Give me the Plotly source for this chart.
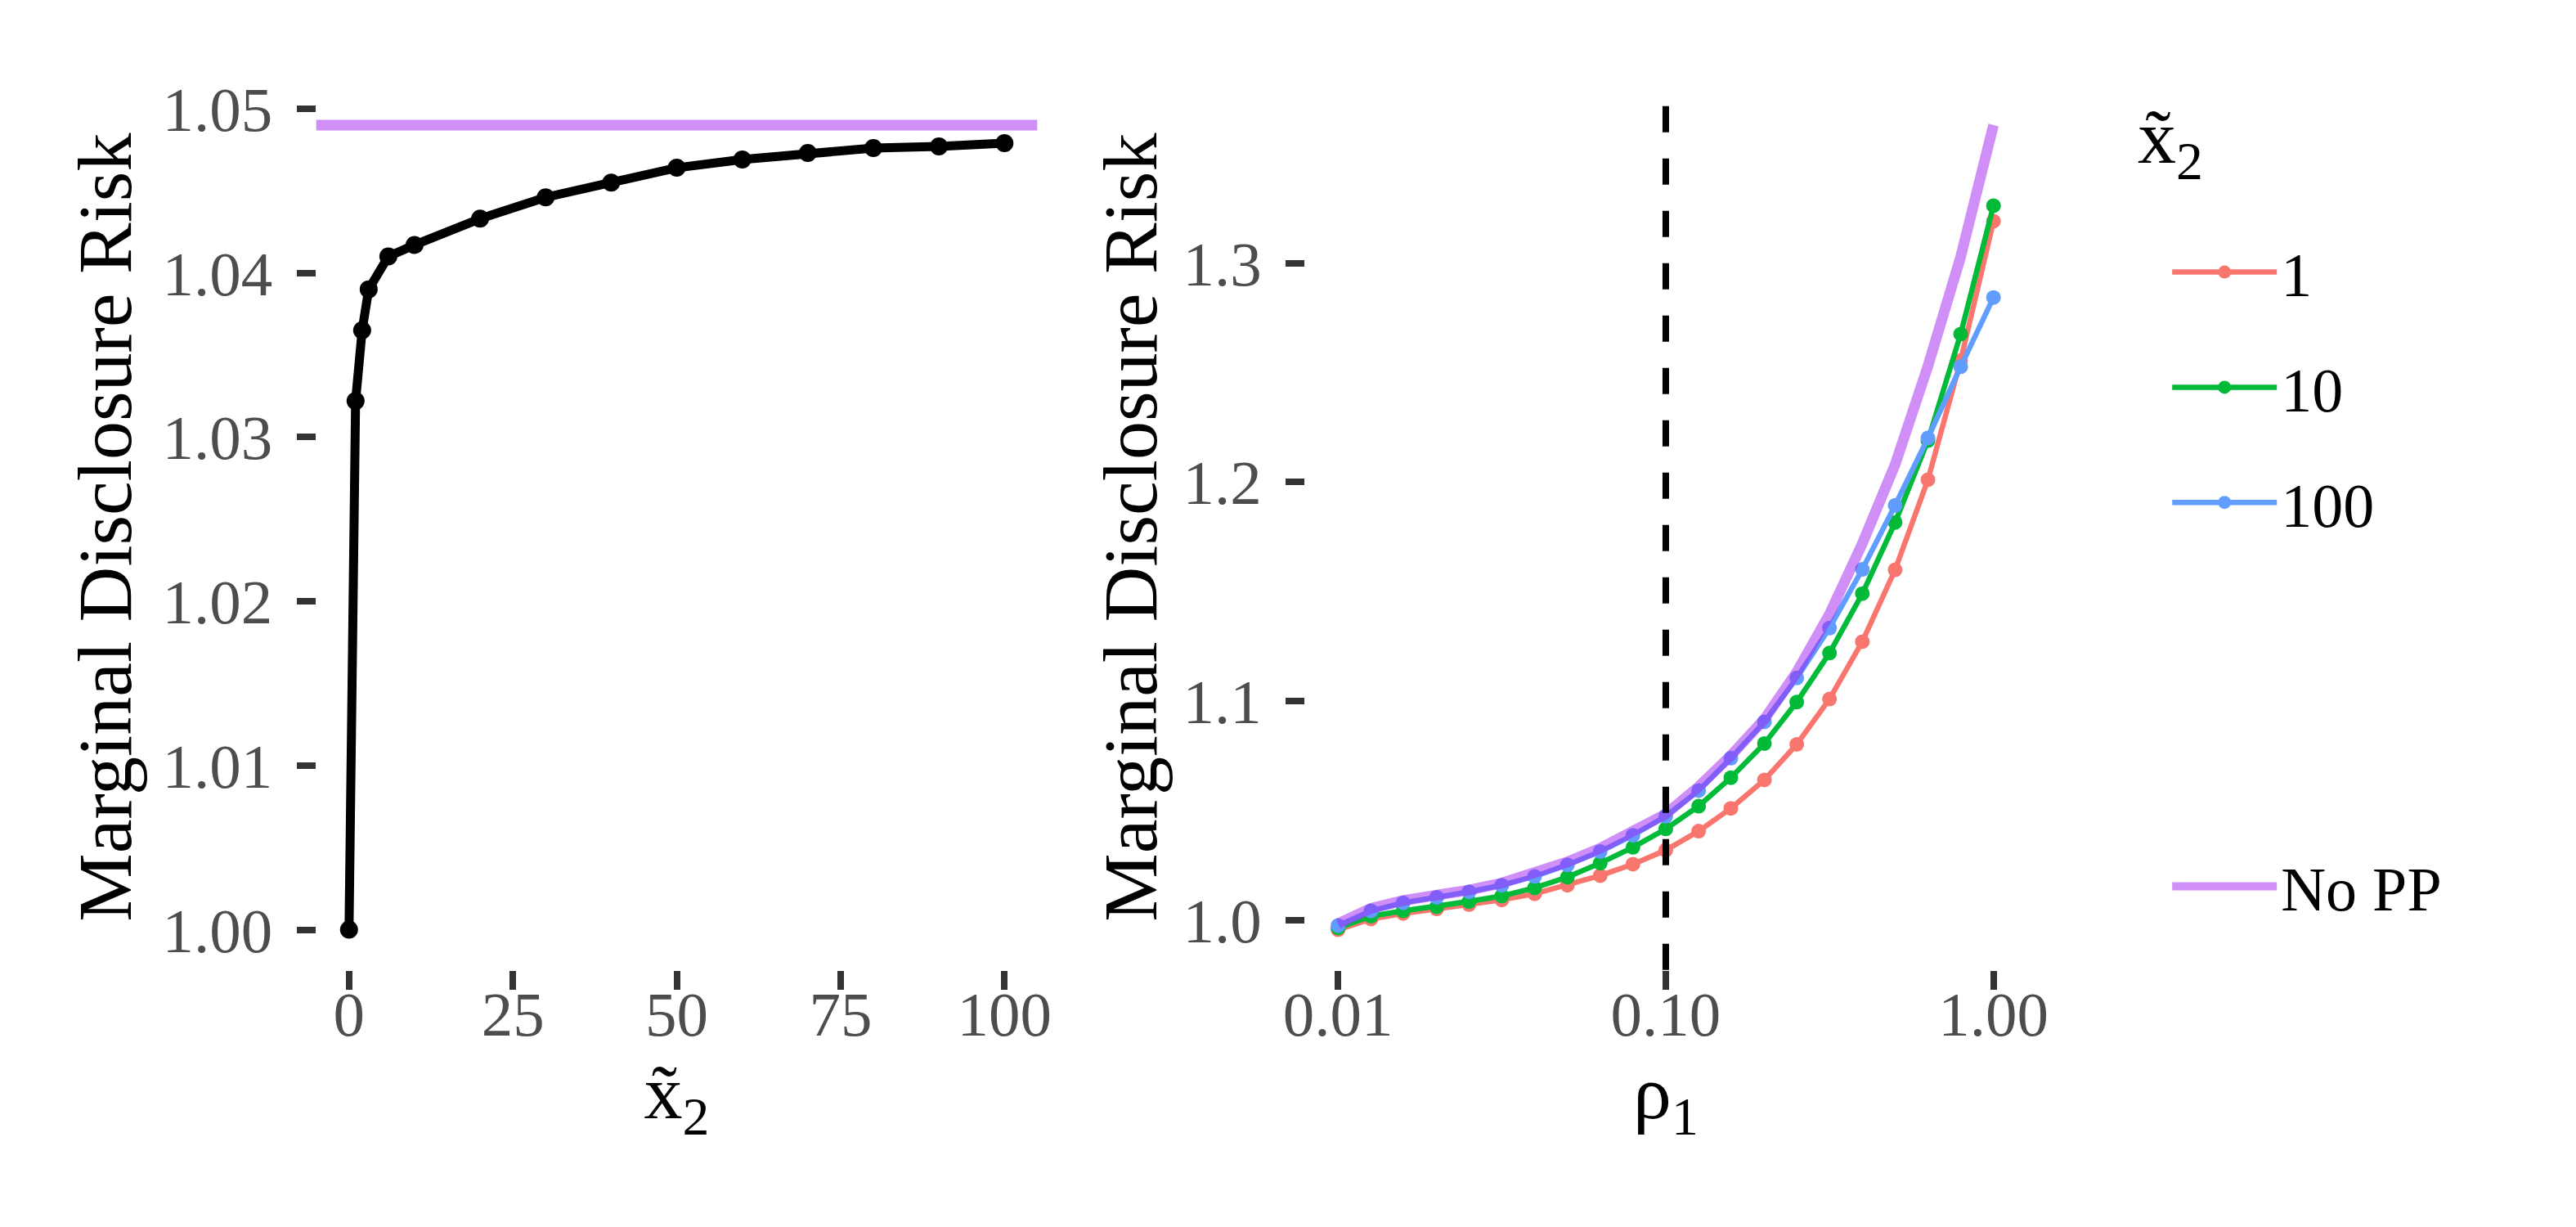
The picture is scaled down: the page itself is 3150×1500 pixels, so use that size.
import math
import plotly.graph_objects as go

# ---------------- data ----------------
# left panel: marginal disclosure risk vs x~2
x2_vals = [0, 1, 2, 3, 6, 10, 20, 30, 40, 50, 60, 70, 80, 90, 100]
risk_left = [1.0000, 1.0322, 1.0365, 1.0390, 1.0410, 1.0417, 1.0433, 1.0446,
             1.0455, 1.0464, 1.0469, 1.0473, 1.0476, 1.0477, 1.0479]
no_pp_left = 1.049

# right panel: marginal disclosure risk vs rho1
rho1 = [0.01, 0.0126, 0.0158, 0.02, 0.0251, 0.0316, 0.0398, 0.0501, 0.0631, 0.0794,
        0.1, 0.126, 0.158, 0.2, 0.251, 0.316, 0.398, 0.501, 0.631, 0.794, 1.0]
risk_x2_1 = [0.9957, 1.0006, 1.0031, 1.0052, 1.0072, 1.0093, 1.0121, 1.0160, 1.0204, 1.0256,
             1.0320, 1.0407, 1.0511, 1.0641, 1.0803, 1.1010, 1.1272, 1.1600, 1.2011, 1.2555, 1.3191]
risk_x2_10 = [0.9965, 1.0019, 1.0043, 1.0062, 1.0086, 1.0111, 1.0148, 1.0197, 1.0261, 1.0333,
              1.0417, 1.0521, 1.0651, 1.0807, 1.0996, 1.1220, 1.1491, 1.1816, 1.2190, 1.2676, 1.3262]
risk_x2_100 = [0.9976, 1.0043, 1.0080, 1.0105, 1.0130, 1.0160, 1.0200, 1.0253, 1.0314, 1.0388,
               1.0475, 1.0592, 1.0740, 1.0906, 1.1106, 1.1334, 1.1602, 1.1894, 1.2202, 1.2527, 1.2843]
risk_no_pp = [0.9985, 1.0055, 1.0090, 1.0113, 1.0138, 1.0170, 1.0214, 1.0266, 1.0329, 1.0403,
              1.0485, 1.0610, 1.0752, 1.0918, 1.1133, 1.1398, 1.1720, 1.2080, 1.2530, 1.3028, 1.3630]
rho_ref = 0.1

series_labels = ["1", "10", "100"]
series_colors = ["#F8766D", "#00BA38", "#619CFF"]
no_pp_color = "rgba(160,32,240,0.5)"

left_xticks = [0, 25, 50, 75, 100]
left_yticks = [1.00, 1.01, 1.02, 1.03, 1.04, 1.05]
right_xticks = [0.01, 0.1, 1.0]
right_xticktext = ["0.01", "0.10", "1.00"]
right_yticks = [1.0, 1.1, 1.2, 1.3]

legend_title = "x\u0303<sub>2</sub>"
x_title_left = "x\u0303<sub>2</sub>"
x_title_right = "\u03c1<sub>1</sub>"
y_title = "Marginal Disclosure Risk"

# ---------------- helpers ----------------
W, H = 3150, 1500
FONT = "Liberation Serif"
TICK_SIZE = 77
TITLE_SIZE = 94
LEG_SIZE = 76


def expand(lo, hi, frac=0.05):
    d = (hi - lo) * frac
    return [lo - d, hi + d]


left_xr = expand(min(x2_vals), max(x2_vals))
left_yr = expand(min(risk_left + [no_pp_left]), max(risk_left + [no_pp_left]))
lx = [math.log10(v) for v in rho1]
right_xr = expand(min(lx), max(lx))
all_right = risk_x2_1 + risk_x2_10 + risk_x2_100 + risk_no_pp
right_yr = expand(min(all_right), max(all_right))

fig = go.Figure()

# left panel
fig.add_trace(go.Scatter(
    x=x2_vals, y=risk_left, mode="lines+markers",
    line=dict(color="black", width=11),
    marker=dict(color="black", size=22),
    xaxis="x", yaxis="y", showlegend=False,
))

# right panel
for lab, col, ys in zip(series_labels, series_colors, [risk_x2_1, risk_x2_10, risk_x2_100]):
    fig.add_trace(go.Scatter(
        x=rho1, y=ys, mode="lines+markers", name=lab,
        line=dict(color=col, width=6.5),
        marker=dict(color=col, size=18),
        xaxis="x2", yaxis="y2", legend="legend", legendgroup=lab,
    ))
fig.add_trace(go.Scatter(
    x=rho1, y=risk_no_pp, mode="lines", name="No PP",
    line=dict(color=no_pp_color, width=13),
    xaxis="x2", yaxis="y2", legend="legend2",
))

# reference lines
fig.add_shape(type="line", xref="x domain", yref="y", x0=0, x1=1,
              y0=no_pp_left, y1=no_pp_left,
              line=dict(color=no_pp_color, width=13))
fig.add_shape(type="line", xref="x2", yref="y2 domain", x0=rho_ref, x1=rho_ref,
              y0=0, y1=1, line=dict(color="black", width=8, dash="32px,32px"))

# legend title (as text above the legend keys)
fig.add_annotation(xref="paper", yref="paper", x=2630 / W, y=1 - 162 / H,
                   xanchor="left", yanchor="middle", showarrow=False,
                   text=legend_title,
                   font=dict(family=FONT, size=TITLE_SIZE, color="black"))

ydom = [1 - 1183 / H, 1 - 91.5 / H]
axis_common = dict(
    showgrid=False, zeroline=False, showline=False,
    ticks="outside", ticklen=23, tickwidth=8, tickcolor="#333333",
    tickfont=dict(family=FONT, size=TICK_SIZE, color="#4D4D4D"),
)
title_font = dict(family=FONT, size=TITLE_SIZE, color="black")

fig.update_layout(
    width=W, height=H, autosize=False,
    margin=dict(l=0, r=0, t=0, b=0),
    paper_bgcolor="white", plot_bgcolor="white",
    font=dict(family=FONT, color="black"),
    xaxis=dict(domain=[366 / W, 1263 / W], anchor="y", range=left_xr,
               tickvals=left_xticks, ticklabelstandoff=-36,
               title=dict(text=x_title_left, font=title_font, standoff=0),
               **axis_common),
    yaxis=dict(domain=ydom, anchor="x", range=left_yr,
               tickvals=left_yticks, tickformat=".2f", ticklabelstandoff=14,
               title=dict(text=y_title, font=title_font, standoff=6),
               **axis_common),
    xaxis2=dict(domain=[1596.5 / W, 2493.5 / W], anchor="y2", type="log",
                range=right_xr, tickvals=right_xticks, ticktext=right_xticktext,
                ticklabelstandoff=-36,
                title=dict(text=x_title_right, font=title_font, standoff=0),
                **axis_common),
    yaxis2=dict(domain=ydom, anchor="x2", range=right_yr,
                tickvals=right_yticks, tickformat=".1f", ticklabelstandoff=14,
                title=dict(text=y_title, font=title_font, standoff=0),
                **axis_common),
    legend=dict(
        x=2670 / W, y=1 - 266 / H, xanchor="left", yanchor="top",
        font=dict(family=FONT, size=LEG_SIZE, color="black"),
        traceorder="grouped", tracegroupgap=39, itemwidth=128,
        bgcolor="rgba(0,0,0,0)",
    ),
    legend2=dict(
        x=2670 / W, y=1 - 1080 / H, xanchor="left", yanchor="middle",
        font=dict(family=FONT, size=LEG_SIZE, color="black"), itemwidth=128,
        bgcolor="rgba(0,0,0,0)",
    ),
)

fig.write_html("out.html", config={"displayModeBar": False},
               post_script="document.body.style.margin='0';document.body.style.overflow='hidden';")
